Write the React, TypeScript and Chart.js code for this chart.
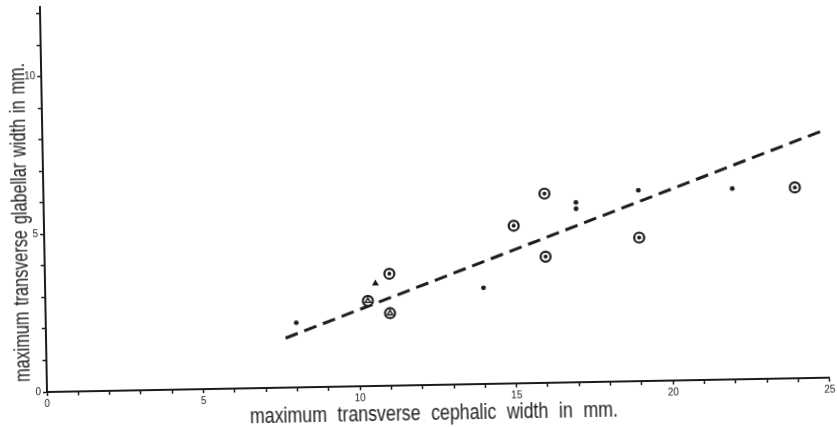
import React, { useEffect, useRef } from 'react';
import { Chart, registerables } from 'chart.js';

Chart.register(...registerables);

// ---- data ----
const xTickValues = [0, 1, 2, 3, 4, 5, 6, 7, 8, 9, 10, 11, 12, 13, 14, 15, 16, 17, 18, 19, 20, 21, 22, 23, 24, 25];
const yTickValues = [0, 1, 2, 3, 4, 5, 6, 7, 8, 9, 10, 11, 12];
const xLabeled = [0, 5, 10, 15, 20, 25];
const yLabeled = [0, 5, 10];

// small solid dots
const dotX = [8, 14, 17, 17, 19, 22];
const dotY = [2.05, 3.05, 5.7, 5.5, 6.05, 6.05];
// ringed dots
const ringDotX = [11, 15, 16, 16, 19, 24];
const ringDotY = [3.55, 5.0, 6.0, 4.0, 4.55, 6.05];
// ringed triangles
const ringTriX = [10.3, 11];
const ringTriY = [2.7, 2.3];
// solid triangle
const triX = [10.55];
const triY = [3.25];
// fitted (dashed) line end points
const fitX = [7.65, 24.88];
const fitY = [1.57, 7.82];

const xTitle = 'maximum transverse cephalic width in mm.';
const yTitle = 'maximum transverse glabellar width in mm.';

const INK = '#1c1c1c';
const FONT = '"Liberation Sans", "DejaVu Sans", sans-serif';

const pts = (xs: number[], ys: number[]) => xs.map((x, i) => ({ x, y: ys[i] }));

function drawCondensed(ctx: any, text: string, x: number, y: number, targetWidth: number, vertical: boolean, spacing: number) {
  ctx.save();
  try { ctx.wordSpacing = spacing + 'px'; } catch (e) {}
  ctx.translate(x, y);
  if (vertical) ctx.rotate(-Math.PI / 2);
  const w = ctx.measureText(text).width;
  ctx.scale(targetWidth / w, 1);
  ctx.textAlign = 'center';
  ctx.textBaseline = 'alphabetic';
  ctx.fillText(text, 0, 0);
  ctx.restore();
}

const titlePlugin = {
  id: 'axisTitles',
  afterDraw(chart: any) {
    const { ctx, chartArea } = chart;
    ctx.save();
    ctx.fillStyle = INK;
    ctx.font = '22px ' + FONT;
    drawCondensed(ctx, xTitle, chartArea.left + 386.5, chartArea.bottom + 35, 368, false, 7);
    drawCondensed(ctx, yTitle, chartArea.left - 17, chartArea.bottom - 170, 319, true, 2);
    ctx.restore();
  },
};

export default function App() {
  const ref = useRef<HTMLCanvasElement | null>(null);

  useEffect(() => {
    if (!ref.current) return;
    const tickFont = { family: FONT, size: 10 };
    const chart = new Chart(ref.current, {
      type: 'scatter',
      data: {
        datasets: [
          {
            type: 'line',
            data: pts(fitX, fitY),
            borderColor: INK,
            borderWidth: 3,
            borderDash: [13, 7],
            pointRadius: 0,
            fill: false,
            order: 5,
          } as any,
          {
            data: [...pts(ringDotX, ringDotY), ...pts(ringTriX, ringTriY)],
            pointStyle: 'circle',
            pointRadius: 5,
            pointBorderWidth: 2.2,
            pointBorderColor: INK,
            pointBackgroundColor: '#ffffff',
            order: 4,
          },
          {
            data: pts(ringDotX, ringDotY),
            pointStyle: 'circle',
            pointRadius: 2,
            pointBorderWidth: 0,
            pointBackgroundColor: INK,
            order: 1,
          },
          {
            data: pts(ringTriX, ringTriY),
            pointStyle: 'triangle',
            pointRadius: 3,
            pointBorderWidth: 1.4,
            pointBorderColor: INK,
            pointBackgroundColor: '#ffffff',
            order: 1,
          },
          {
            data: pts(dotX, dotY),
            pointStyle: 'circle',
            pointRadius: 2.4,
            pointBorderWidth: 0,
            pointBackgroundColor: INK,
            order: 1,
          },
          {
            data: pts(triX, triY),
            pointStyle: 'triangle',
            pointRadius: 4,
            pointBorderWidth: 0,
            pointBackgroundColor: INK,
            order: 1,
          },
        ],
      },
      options: {
        responsive: false,
        animation: false,
        events: [],
        layout: { padding: { left: 0, right: 2.5, top: 6.5, bottom: 0 } },
        plugins: { legend: { display: false }, tooltip: { enabled: false } },
        scales: {
          x: {
            type: 'linear',
            min: 0,
            max: 25,
            afterBuildTicks: (s: any) => {
              s.ticks = xTickValues.map((v) => ({ value: v }));
            },
            afterFit: (s: any) => {
              s.height = 48;
              s.paddingLeft = 0;
              s.paddingRight = 0;
            },
            ticks: {
              autoSkip: false,
              maxRotation: 0,
              padding: 2,
              color: INK,
              font: tickFont,
              callback: (v: any) => (xLabeled.includes(Number(v)) ? String(v) : ''),
            },
            grid: { drawOnChartArea: false, drawTicks: true, tickLength: 4, tickWidth: 1.5, tickColor: INK },
            border: { display: true, color: INK, width: 2 },
          },
          y: {
            type: 'linear',
            min: 0,
            max: 12.2,
            afterBuildTicks: (s: any) => {
              s.ticks = yTickValues.map((v) => ({ value: v }));
            },
            afterFit: (s: any) => {
              s.width = 47;
              s.paddingTop = 0;
              s.paddingBottom = 0;
            },
            ticks: {
              autoSkip: false,
              padding: 2,
              color: INK,
              font: tickFont,
              callback: (v: any) => (yLabeled.includes(Number(v)) ? String(v) : ''),
            },
            grid: { drawOnChartArea: false, drawTicks: true, tickLength: 4, tickWidth: 1.5, tickColor: INK },
            border: { display: true, color: INK, width: 2 },
          },
        },
      },
      plugins: [titlePlugin],
    } as any);
    return () => chart.destroy();
  }, []);

  return (
    <div style={{ position: 'fixed', left: 0, top: 0, width: 837, height: 427, overflow: 'hidden', background: '#ffffff' }}>
      <div
        style={{
          position: 'absolute',
          left: 0,
          top: 0,
          width: 837,
          height: 440,
          transform: 'rotate(-1.05deg)',
          transformOrigin: '47px 392px',
        }}
      >
        <canvas ref={ref} width={837} height={440} style={{ display: 'block', width: 837, height: 440 }} />
      </div>
    </div>
  );
}
